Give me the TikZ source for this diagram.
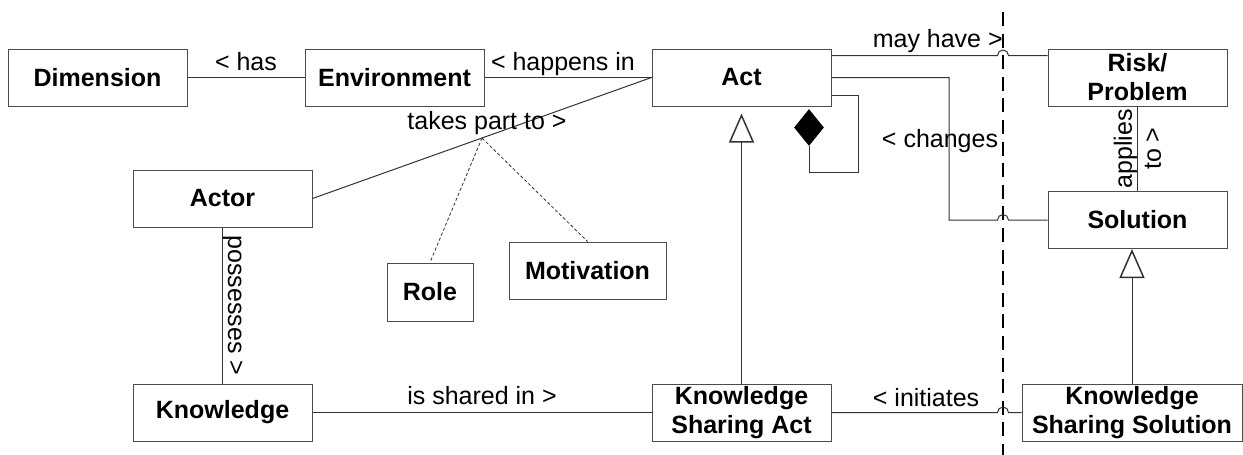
\documentclass[tikz,border=0pt]{standalone}
\usepackage{fontspec}
\setmainfont{Liberation Sans}
\usetikzlibrary{arrows.meta,calc,shapes.geometric}

\begin{document}
\begin{tikzpicture}[x=0.5pt,y=-0.5pt,
  font=\fontsize{12.5}{14.5}\selectfont,
  cls/.style={draw=black!70, line width=0.5pt, fill=white,
    font=\fontsize{12.5}{14.5}\selectfont\bfseries, align=center,
    minimum width=89.5pt, minimum height=28.5pt, inner sep=0pt},
  assoc/.style={draw=black!80, line width=0.5pt},
  lbl/.style={inner sep=0pt, text depth=0pt},
  dep/.style={assoc, dash pattern=on 1.6pt off 1.1pt, line width=0.4pt},
  inh/.style={-{Triangle[open, length=14.5pt, width=12.5pt, line width=0.75pt]}},
  sepline/.style={line width=1pt, dash pattern=on 7pt off 3.8pt},
  hop/.style={}]
\useasboundingbox (0,0) rectangle (1243,455);

% classes
\node[cls] (dim) at (97.5,77.5) {Dimension};
\node[cls] (env) at (394.5,77.5) {Environment};
\node[cls] (act) at (741.5,77.5) {Act};
\node[cls] (risk) at (1137.5,77.5) {Risk/\\Problem};
\node[cls] (sol) at (1137.5,220) {Solution};
\node[cls] (actor) at (222.5,198.5) {Actor};
\node[cls] (know) at (222.5,412.5) {Knowledge};
\node[cls] (ksa) at (741.5,412.5) {Knowledge\\Sharing Act};
\node[cls, minimum width=110pt] (kss) at (1132,412.5) {Knowledge\\Sharing Solution};
\node[cls, minimum width=43pt, minimum height=29pt] (role) at (430,292) {Role};
\node[cls, minimum width=78.5pt] (motiv) at (587.5,270.5) {Motivation};
\node[diamond, fill=black, minimum width=15pt, minimum height=18.5pt, inner sep=0pt] (comp) at (809,127.5) {};

% boundary line
\coordinate (sepTop) at (1003,12);
\coordinate (sepBot) at (1003,455);
\draw[sepline] (sepTop) -- (sepBot);

% helper points for routed connectors
\coordinate (bendC) at (949,0);
\coordinate (loopC) at (858,172);

% associations
\draw[assoc] (dim) -- node[lbl, above=3.5pt] {< has} (env);
\draw[assoc] (env) -- node[lbl, above=3.5pt, xshift=-2.5pt] {< happens in} (act);

\draw[assoc] ($(act.north east)+(0,-3.5pt)$) coordinate (m0)
  -- node[lbl, above=4pt, pos=0.64] {may have >} ($(m0 -| sepTop)+(-2.75pt,0)$)
  arc[start angle=180, end angle=0, radius=2.75pt] -- (m0 -| risk.west);

\draw[assoc] (act.east) -- (act.east -| bendC)
  -- node[lbl, anchor=base, pos=0.488, xshift=-4.5pt] {< changes} (bendC |- sol.west)
  -- ($(sol.west -| sepTop)+(-2.75pt,0)$)
  arc[start angle=180, end angle=0, radius=2.75pt] -- (sol.west);

\draw[assoc] ($(act.south east)+(0,5.5pt)$) -| (loopC) -| (comp.south);

\draw[assoc] (risk) -- node[inner sep=0pt, midway, rotate=90, align=center] {applies\\to >} (sol);

\draw[assoc] (actor.east) -- coordinate[midway] (tp)
  node[lbl, midway, above=4pt, xshift=2.5pt] {takes part to >} (act.west);
\draw[dep] (tp) -- (role.north);
\draw[dep] (tp) -- (motiv.north);

\draw[assoc] (actor) -- node[lbl, midway, xshift=2.5pt, rotate=-90, anchor=south] {possesses >} (know);

\draw[assoc] (know) -- node[lbl, above=4pt] {is shared in >} (ksa);

\draw[assoc] (ksa.east)
  -- node[lbl, above=3pt, pos=0.57] {< initiates} ($(ksa.east -| sepTop)+(-2.75pt,0)$)
  arc[start angle=180, end angle=0, radius=2.75pt] -- (kss.west);

% generalisations
\draw[assoc, inh] (ksa.north) -- ($(act.south)+(0,-3.5pt)$);
\draw[assoc, inh] (kss.north) -- (kss.north |- sol.south);
\end{tikzpicture}
\end{document}
